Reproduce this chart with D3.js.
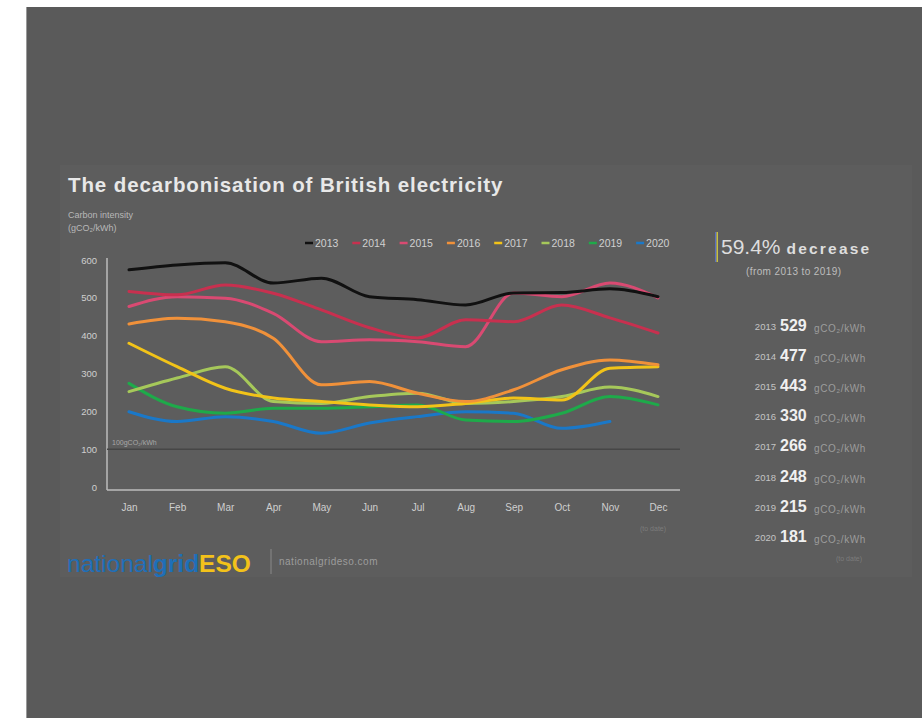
<!DOCTYPE html>
<html><head><meta charset="utf-8">
<script src="https://cdn.jsdelivr.net/npm/d3@7"></script>
<style>body{margin:0;background:#fff;}svg{display:block;font-family:"Liberation Sans",Arial,sans-serif;}</style>
</head><body>
<svg id="c" width="922" height="718"></svg>
<script>
const months = ["Jan","Feb","Mar","Apr","May","Jun","Jul","Aug","Sep","Oct","Nov","Dec"];
const yTicks = [0,100,200,300,400,500,600];
const years = ["2013","2014","2015","2016","2017","2018","2019","2020"];
const colors = ["#111111","#c8304f","#d94a72","#f0913a","#f2c318","#a6c85a","#1eaa4a","#1a78c8"];
const s2013 = [574,587,593,539,552,503,495,481,513,514,524,503];
const s2014 = [517,508,534,512,468,421,394,442,437,481,447,407];
const s2015 = [477,503,499,459,384,389,384,371,513,503,539,500];
const s2016 = [431,446,437,393,270,279,248,226,257,310,336,323];
const s2017 = [380,318,261,235,226,217,212,221,235,230,314,318];
const s2018 = [252,288,318,226,221,239,248,221,226,239,264,239];
const s2019 = [274,212,195,208,208,212,217,177,173,195,239,217];
const s2020 = [199,173,186,173,142,169,186,199,195,155,173];
const averages = [529,477,443,330,266,248,215,181];
const headline = "59.4%";

const series = [s2013,s2014,s2015,s2016,s2017,s2018,s2019,s2020];
const svg = d3.select("#c");

// backgrounds
svg.append("rect").attr("x",26).attr("y",7).attr("width",896).attr("height",711).attr("fill","#5a5a5a");
svg.append("line").attr("x1",26.5).attr("x2",26.5).attr("y1",7).attr("y2",718).attr("stroke","#9a9a9a");
svg.append("rect").attr("x",60).attr("y",165).attr("width",852).attr("height",412).attr("fill","#5d5d5d");

// title
svg.append("text").attr("x",68).attr("y",192).attr("fill","#e8e8e8").attr("font-size",20.5).attr("font-weight","bold")
  .attr("letter-spacing",0.9).text("The decarbonisation of British electricity");
svg.append("text").attr("x",68).attr("y",218).attr("fill","#b8b8b8").attr("font-size",9).text("Carbon intensity");
svg.append("text").attr("x",68).attr("y",231).attr("fill","#b8b8b8").attr("font-size",9).text("(gCO₂/kWh)");

const x = d3.scalePoint().domain(months).range([129,658]);
const y = d3.scaleLinear().domain([0,600]).range([487,260]);

// axes
const gy = svg.append("g").attr("transform","translate(107,0)")
  .call(d3.axisLeft(y).tickValues(yTicks).tickSize(0).tickPadding(10));
gy.select(".domain").attr("stroke","#bdbdbd").attr("stroke-width",1.5).attr("d","M0,258V490");
gy.selectAll("text").attr("fill","#cfcfcf").attr("font-size",9.5).attr("font-family","Liberation Sans, Arial");

const gx = svg.append("g").attr("transform","translate(0,490)")
  .call(d3.axisBottom(x).tickSize(0).tickPadding(14));
gx.select(".domain").attr("stroke","#bdbdbd").attr("stroke-width",1.5).attr("d","M107,0H680");
gx.selectAll("text").attr("fill","#cfcfcf").attr("font-size",10).attr("font-family","Liberation Sans, Arial");

// 100 g line
svg.append("line").attr("x1",107).attr("x2",680).attr("y1",y(100)).attr("y2",y(100)).attr("stroke","#464646").attr("stroke-width",1.5);
svg.append("text").attr("x",112).attr("y",y(100)-4).attr("fill","#a8a8a8").attr("font-size",7).text("100gCO₂/kWh");
svg.append("text").attr("x",640).attr("y",531).attr("fill","#7c7c7c").attr("font-size",7).text("(to date)");

// lines
const line = d3.line().x((d,i)=>x(months[i])).y(d=>y(d)).curve(d3.curveMonotoneX);
const order = [7,6,5,4,3,2,1,0];
order.forEach(k=>{
  svg.append("path").datum(series[k]).attr("d",line).attr("fill","none")
    .attr("stroke",colors[k]).attr("stroke-width",3).attr("stroke-linejoin","round").attr("stroke-linecap","round");
});

// legend
const lg = svg.append("g");
years.forEach((yr,i)=>{
  const lx = 305 + i*47.3;
  lg.append("line").attr("x1",lx).attr("x2",lx+8).attr("y1",243).attr("y2",243).attr("stroke",colors[i]).attr("stroke-width",2.5);
  lg.append("text").attr("x",lx+10).attr("y",247).attr("fill","#d0d0d0").attr("font-size",10.5).text(yr);
});

// right panel
svg.append("rect").attr("x",715).attr("y",232).attr("width",1.5).attr("height",30).attr("fill","#5a6fc0");
svg.append("rect").attr("x",716.5).attr("y",232).attr("width",1.5).attr("height",30).attr("fill","#c8c040");
const hl = svg.append("text").attr("x",721).attr("y",254).attr("fill","#dedede");
hl.append("tspan").attr("font-size",21).text(headline);
hl.append("tspan").attr("font-size",15.5).attr("font-weight","bold").attr("letter-spacing",2.2).attr("dx",6).text("decrease");
svg.append("text").attr("x",746).attr("y",275).attr("fill","#bdbdbd").attr("font-size",10).attr("letter-spacing",0.4).text("(from 2013 to 2019)");

years.forEach((yr,i)=>{
  const ry = 330 + i*30.1;
  svg.append("text").attr("x",776).attr("y",ry).attr("text-anchor","end").attr("fill","#c4c4c4").attr("font-size",9.5).text(yr);
  svg.append("text").attr("x",780).attr("y",ry+1).attr("fill","#f0f0f0").attr("font-size",16).attr("font-weight","bold").text(averages[i]);
  svg.append("text").attr("x",814).attr("y",ry+2).attr("fill","#9c9c9c").attr("font-size",10).attr("letter-spacing",0.6).text("gCO₂/kWh");
});
svg.append("text").attr("x",836).attr("y",561).attr("fill","#7c7c7c").attr("font-size",7).text("(to date)");

// logo
const logo = svg.append("text").attr("x",67).attr("y",572).attr("font-size",24.5);
logo.append("tspan").attr("fill","#1f6fb8").attr("font-weight","normal").text("national");
logo.append("tspan").attr("fill","#1f6fb8").attr("font-weight","bold").text("grid");
logo.append("tspan").attr("fill","#f3c21a").attr("font-weight","bold").text("ESO");
svg.append("line").attr("x1",271).attr("x2",271).attr("y1",549).attr("y2",574).attr("stroke","#8a8a8a").attr("stroke-width",1);
svg.append("text").attr("x",279).attr("y",565).attr("fill","#9c9c9c").attr("font-size",10).attr("letter-spacing",0.5).text("nationalgrideso.com");
</script>
</body></html>
